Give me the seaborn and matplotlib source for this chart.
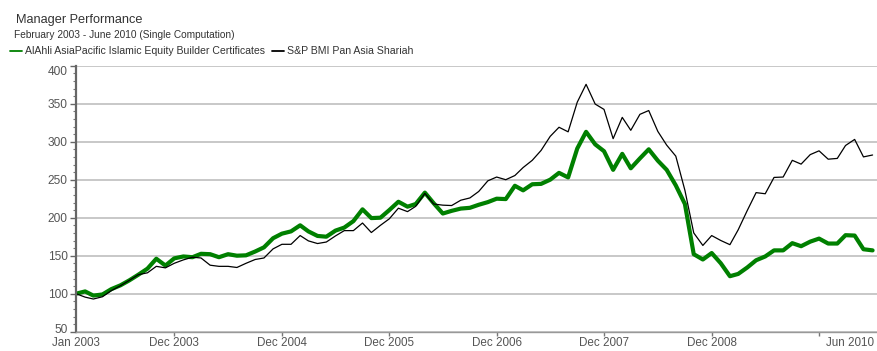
import numpy as np
import pandas as pd
import matplotlib
matplotlib.use("Agg")
import matplotlib.pyplot as plt
from matplotlib.lines import Line2D
from matplotlib.ticker import MultipleLocator
from matplotlib.transforms import ScaledTranslation
import seaborn as sns

# Monthly index values, Jan 2003 = 100
months = pd.date_range("2003-01-01", periods=90, freq="MS")

fund_name = "AlAhli AsiaPacific Islamic Equity Builder Certificates"
bench_name = "S&P BMI Pan Asia Shariah"

fund = [
    100, 103, 97.5, 99, 106, 111, 117.5, 125, 133, 146, 137, 146.5,
    149, 148, 152.5, 152, 148, 152, 150, 150.5, 155.5, 161, 173, 179,
    182, 190, 182, 176, 175, 183, 187, 195.5, 211, 199.5, 200, 210,
    221, 214.5, 218, 233, 219, 205.5, 209, 212, 213, 217, 220.5, 225,
    224.5, 242, 236, 244, 244.5, 250, 259, 253, 291, 313, 296.5, 287.5,
    263, 284, 265, 278, 290, 275, 263, 242.5, 218, 152, 145, 153.5,
    140, 123, 126, 134.5, 144, 149, 157, 157, 166.5, 162.5, 168.5, 172.5,
    166, 166, 177, 176.5, 158.5, 157,
]

bench = [
    100, 95.5, 93, 96, 104, 110.5, 117.5, 125, 127.5, 136, 134, 140,
    144.5, 148, 147, 137.5, 136, 136, 134.5, 140, 145, 147, 159, 165,
    165, 176.5, 169.5, 166, 168, 176, 183, 183, 193, 180.5, 190, 198.5,
    212.5, 208, 215, 232, 218, 216.5, 216, 223, 226, 234.5, 248.5, 253.5,
    250, 255.5, 266, 275.5, 288.5, 307, 319, 313, 352, 375.5, 349.5, 342.5,
    304, 332, 315, 336, 341, 313.5, 295.5, 281, 236, 180, 163.5, 176.5,
    170, 164.5, 184, 209.5, 233, 231.5, 253, 253.5, 275.5, 270.5, 283, 288,
    277, 278, 295, 303, 280, 282.5,
]

tick_dates = pd.to_datetime([
    "2003-01-01", "2003-12-01", "2004-12-01", "2005-12-01",
    "2006-12-01", "2007-12-01", "2008-12-01", "2009-12-01",
])
tick_labels = ["Jan 2003", "Dec 2003", "Dec 2004", "Dec 2005",
               "Dec 2006", "Dec 2007", "Dec 2008", "Jun 2010"]
y_ticks = [50, 100, 150, 200, 250, 300, 350, 400]

df = pd.DataFrame({"month": months, "fund": fund, "bench": bench})

sns.set_theme(style="white")
plt.rcParams["font.family"] = ["Liberation Sans", "DejaVu Sans"]

W, H = 877, 351
fig = plt.figure(figsize=(W / 100, H / 100), dpi=100)
ax = fig.add_axes([76 / W, (H - 331.7) / H, (W - 76) / W, (331.7 - 65.7) / H])

green = "#008000"
sns.lineplot(data=df, x="month", y="fund", ax=ax, color=green,
             linewidth=3.0, legend=False)
sns.lineplot(data=df, x="month", y="bench", ax=ax, color="black",
             linewidth=0.9, legend=False)

ax.set_xlim(pd.Timestamp("2003-01-01"), pd.Timestamp("2010-06-16"))
ax.set_ylim(50, 400)
ax.set_xlabel("")
ax.set_ylabel("")

# y axis
ax.set_yticks(y_ticks)
ax.set_yticklabels([str(v) for v in y_ticks])
ax.yaxis.set_minor_locator(MultipleLocator(10))
ax.grid(axis="y", which="major", color="#c4c4c4", linewidth=1.3)
ax.tick_params(axis="y", which="major", direction="out", length=4, width=1,
               color="#666666", labelsize=8.6, labelcolor="#555555", pad=2,
               left=True)
ax.tick_params(axis="y", which="minor", direction="out", length=2.2, width=0.8,
               color="#777777", left=True)
# nudge the end labels so they stay clear of the frame corners
y_shift = {"400": -0.05, "50": 0.035}
for lab in ax.get_yticklabels():
    dy = y_shift.get(lab.get_text())
    if dy:
        lab.set_transform(lab.get_transform()
                          + ScaledTranslation(0, dy, fig.dpi_scale_trans))

# x axis
ax.set_xticks(tick_dates)
ax.set_xticklabels(tick_labels)
ax.tick_params(axis="x", which="major", direction="out", length=3, width=1,
               color="#777777", labelsize=8.4, labelcolor="#555555", pad=0.8,
               bottom=True)
ax.xaxis.get_major_ticks()[0].tick1line.set_visible(False)
last = ax.get_xticklabels()[-1]
last.set_transform(last.get_transform()
                   + ScaledTranslation(0.31, 0, fig.dpi_scale_trans))

for side in ("top", "right"):
    ax.spines[side].set_visible(False)
ax.spines["left"].set_color("#666666")
ax.spines["left"].set_linewidth(1.6)
ax.spines["bottom"].set_color("#999999")
ax.spines["bottom"].set_linewidth(1.0)

# header
fig.text(16 / W, 1 - 23 / H, "Manager Performance", fontsize=9.2,
         color="#333333", ha="left", va="baseline")
fig.text(14 / W, 1 - 37.5 / H, "February 2003 - June 2010 (Single Computation)",
         fontsize=7.3, color="#333333", ha="left", va="baseline")

handles = [Line2D([], [], color=green, linewidth=1.3),
           Line2D([], [], color="black", linewidth=1.3)]
fig.legend(handles, [fund_name, bench_name], loc="center left",
           bbox_to_anchor=(10 / W, 1 - 51.5 / H), ncol=2, frameon=False,
           fontsize=7.6, handlelength=1.15, handletextpad=0.3,
           columnspacing=0.6, borderpad=0, borderaxespad=0,
           labelcolor="#333333")

fig.savefig("out.png", dpi=100)
